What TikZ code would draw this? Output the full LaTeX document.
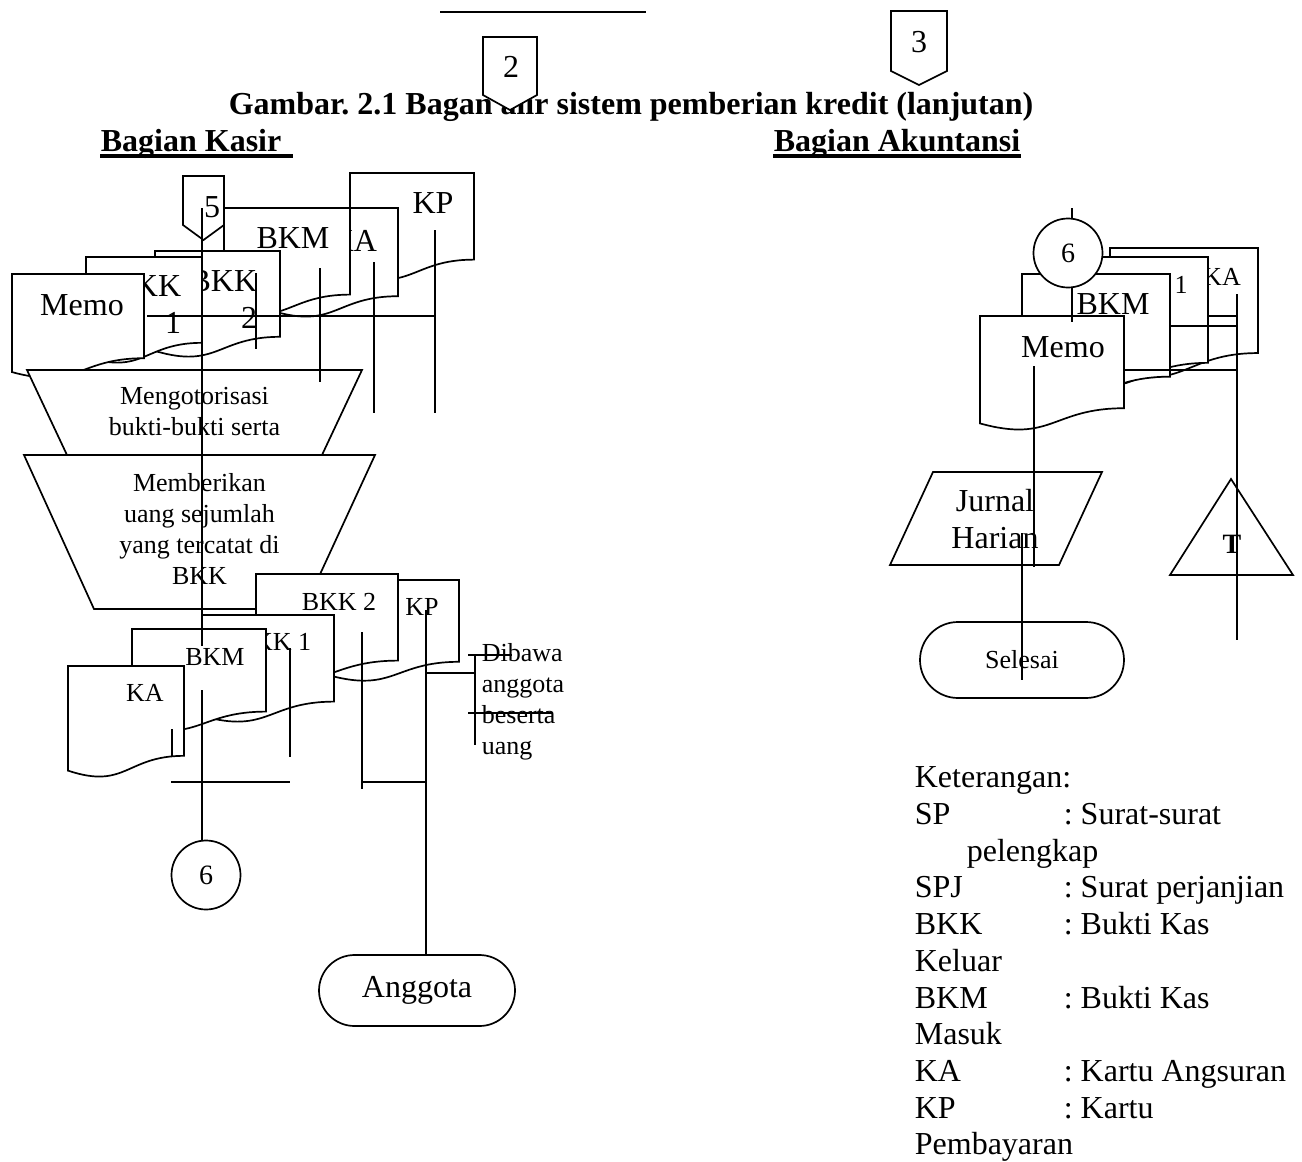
\documentclass[tikz,border=0pt]{standalone}
\usepackage{fontspec}
\setmainfont{Liberation Serif}
\usetikzlibrary{shapes.misc, positioning, calc}
\frenchspacing

\newcommand{\bigf}{\fontsize{16pt}{18.5pt}\selectfont}
\newcommand{\smlf}{\fontsize{13pt}{15.5pt}\selectfont}

% document symbol: name, left, top, width, height
\newcommand{\docsym}[5]{%
  \filldraw[fill=white] (#2,#3) -- (#2+#4,#3) -- (#2+#4,#3+0.802*#5)
    .. controls (#2+0.5*#4,#3+0.802*#5) and (#2+0.5*#4,#3+1.107*#5) .. (#2,#3+0.934*#5) -- cycle;
  \coordinate (#1) at (#2,#3);}
% off-page connector: name, left, top, width, side height, tip height
\newcommand{\offpage}[6]{%
  \filldraw[fill=white] (#2,#3) -- (#2+#4,#3) -- (#2+#4,#3+#5) -- (#2+0.5*#4,#3+#6) -- (#2,#3+#5) -- cycle;
  \coordinate (#1) at (#2+0.5*#4,#3);}

\begin{document}
\begin{tikzpicture}[
    x=0.5pt, y=-0.5pt, line width=0.85pt,
    lab/.style = {font=\bigf, inner sep=0pt},
    slab/.style = {font=\smlf, inner sep=0pt},
    head/.style = {font=\bigf\bfseries, inner sep=0pt, anchor=base west},
    term/.style = {rounded rectangle, draw, fill=white, inner sep=0pt},
    conn/.style = {circle, draw, fill=white, minimum size=34.5pt, inner sep=0pt, font=\fontsize{14pt}{16pt}\selectfont},
    ket/.style = {font=\fontsize{16pt}{18.35pt}\selectfont, align=left, inner sep=0pt, anchor=north west},
    uline/.style = {line width=1.6pt}
]
    \path[fill=white] (0,0) rectangle (1302,1162);

    % Title
    \coordinate (topl) at (440,12);
    \coordinate (topr) at (646,12);
    \draw (topl) -- (topr);
    \node[head] (title) at (228,114) {Gambar. 2.1 Bagan alir sistem pemberian kredit (lanjutan)};
    \offpage{c2}{483}{37}{54}{58}{73}
    \node[lab] (c2t) at (511,67) {2};
    \offpage{c3}{891}{11}{56}{60}{74}
    \node[lab] (c3t) at (919,42) {3};
    \node[head] (kasir) at (100,151) {Bagian Kasir};
    \node[head] (akun) at (773,151) {Bagian Akuntansi};
    \draw[uline] ([yshift=-2.5pt]kasir.base west) -- ++(193,0);
    \draw[uline] ([yshift=-2.5pt]akun.base west) -- ([yshift=-2.5pt]akun.base east);

    % Bagian Kasir - documents in
    \docsym{kpA}{350}{173}{124}{108}
    \node[lab] (kpAt) at (433,203) {KP};
    \docsym{kaA}{272}{208}{126}{110}
    \node[lab] (kaAt) at (354,241) {KA};
    \docsym{bkmA}{224}{208}{126}{108}
    \node[lab] (bkmAt) at (293,238) {BKM};
    \docsym{bkk2A}{155}{251}{125}{107}
    \node[lab, align=right, anchor=north east] (bkk2At) at (258,270) {BKK\\2};
    \docsym{bkk1A}{86}{257}{116}{107}
    \node[lab, align=right, anchor=north east] (bkk1At) at (182,275) {BKK\\1};
    \docsym{memoA}{12}{274}{132}{105}
    \node[lab] (memoAt) at (82,305) {Memo};
    \offpage{c5}{183}{176}{41}{49}{64}
    \node[lab] (c5t) at (212,207) {5};

    % Manual operations
    \filldraw[fill=white] (27,370) -- (362,370) -- (322,455) -- (67,455) -- cycle;
    \node[slab, align=center] (otor) at (194.5,412) {Mengotorisasi\\bukti-bukti serta};
    \filldraw[fill=white] (24,455) -- (375,455) -- (304,609) -- (94,609) -- cycle;
    \node[slab, align=center] (bayar) at (199.5,529.5) {Memberikan\\uang sejumlah\\yang tercatat di\\BKK};

    % Bagian Kasir - documents out
    \docsym{kpB}{329}{580}{130}{102}
    \node[slab] (kpBt) at (422,607) {KP};
    \docsym{bkk2B}{256}{574}{142}{108}
    \node[slab] (bkk2Bt) at (339,602) {BKK 2};
    \docsym{bkk1B}{202}{615}{132}{108}
    \node[slab] (bkk1Bt) at (274,642) {BKK 1};
    \docsym{bkmB}{132}{629}{134}{103}
    \node[slab] (bkmBt) at (215,657) {BKM};
    \docsym{kaB}{68}{666}{116}{112}
    \node[slab] (kaBt) at (145,693) {KA};

    \node[conn] (cir6b) at (206,875) {6};
    \node[term, font=\bigf, minimum width=98pt, minimum height=35.5pt] (ang) at (417,990.5) {Anggota};
    \node[slab, align=left, anchor=north west] (note) at (481,643) {Dibawa\\anggota\\beserta\\uang};

    % Bagian Akuntansi
    \docsym{kaR}{1110}{248}{148}{131}
    \node[slab] (kaRt) at (1222,277) {KA};
    \docsym{bkk1R}{1060}{257}{148}{132}
    \node[slab] (bkk1Rt) at (1181,285) {1};
    \docsym{bkmR}{1022}{274}{148}{128}
    \node[lab] (bkmRt) at (1113,304) {BKM};
    \docsym{memoR}{980}{316}{144}{115}
    \node[lab] (memoRt) at (1063,347) {Memo};
    \node[conn] (cir6a) at (1068,253) {6};

    \filldraw[fill=white] (933,472) -- (1102,472) -- (1059,565) -- (890,565) -- cycle;
    \node[lab, align=center] (jurnal) at (995,519) {Jurnal\\Harian};
    \filldraw[fill=white] (1231,479) -- (1293,575) -- (1170,575) -- cycle;
    \node[font=\fontsize{14pt}{16pt}\selectfont\bfseries, inner sep=0pt] (arsip) at (1232,544) {T};
    \node[term, font=\smlf, minimum width=102pt, minimum height=38pt] (selesai) at (1022,660) {Selesai};

    % Keterangan
    \node[ket] (ket) at (914,766) {Keterangan:\\
        \makebox[74.5pt][l]{SP}: Surat-surat\\
        \hspace*{26pt}pelengkap\\
        \makebox[74.5pt][l]{SPJ}: Surat perjanjian\\
        \makebox[74.5pt][l]{BKK}: Bukti Kas\\
        Keluar\\
        \makebox[74.5pt][l]{BKM}: Bukti Kas\\
        Masuk\\
        \makebox[74.5pt][l]{KA}: Kartu Angsuran\\
        \makebox[74.5pt][l]{KP}: Kartu\\
        Pembayaran};

    % Flow lines - Kasir
    \coordinate (k1) at (202,208);  \coordinate (k2) at (202,646);
    \coordinate (k3) at (202,690);
    \coordinate (k4) at (147,316);  \coordinate (k5) at (435,316);
    \coordinate (k6) at (435,230);  \coordinate (k7) at (435,413);
    \coordinate (k8) at (374,262);  \coordinate (k9) at (374,413);
    \coordinate (k10) at (320,268); \coordinate (k11) at (320,382);
    \coordinate (k12) at (256,273); \coordinate (k13) at (256,349);
    \draw (k1) -- (k2);
    \draw (k3) -- (k3 |- cir6b.north);
    \draw (k4) -- (k5);
    \draw (k6) -- (k7);
    \draw (k8) -- (k9);
    \draw (k10) -- (k11);
    \draw (k12) -- (k13);

    \coordinate (m1) at (172,729);  \coordinate (m2) at (172,756);
    \coordinate (m3) at (290,648);  \coordinate (m4) at (290,757);
    \coordinate (m5) at (171,782);  \coordinate (m6) at (290,782);
    \coordinate (m7) at (362,632);  \coordinate (m8) at (362,789);
    \coordinate (m9) at (362,782);  \coordinate (m10) at (426,782);
    \coordinate (m11) at (426,610);
    \coordinate (m12) at (426,673); \coordinate (m13) at (475,673);
    \coordinate (m14) at (475,654); \coordinate (m15) at (475,745);
    \coordinate (m16) at (468,655); \coordinate (m17) at (512,655);
    \coordinate (m18) at (468,713); \coordinate (m19) at (553,713);
    \draw (m1) -- (m2);
    \draw (m3) -- (m4);
    \draw (m5) -- (m6);
    \draw (m7) -- (m8);
    \draw (m9) -- (m10);
    \draw (m11) -- (m11 |- ang.north);
    \draw (m12) -- (m13);
    \draw (m14) -- (m15);
    \draw (m16) -- (m17);
    \draw (m18) -- (m19);

    % Flow lines - Akuntansi
    \coordinate (a1) at (1072,208);  \coordinate (a2) at (1072,219);
    \coordinate (a3) at (1072,287);  \coordinate (a4) at (1072,322);
    \coordinate (a5) at (1237,294);  \coordinate (a6) at (1237,640);
    \coordinate (a7) at (1208,316);  \coordinate (a8) at (1170,326);
    \coordinate (a9) at (1124,370);
    \coordinate (a10) at (1034,366); \coordinate (a11) at (1034,567);
    \coordinate (a12) at (1022,533); \coordinate (a13) at (1022,680);
    \draw (a1) -- (a2);
    \draw (a3) -- (a4);
    \draw (a5) -- (a6);
    \draw (a7) -- (a7 -| a5);
    \draw (a8) -- (a8 -| a5);
    \draw (a9) -- (a9 -| a5);
    \draw (a10) -- (a11);
    \draw (a12) -- (a13);

\end{tikzpicture}
\end{document}
